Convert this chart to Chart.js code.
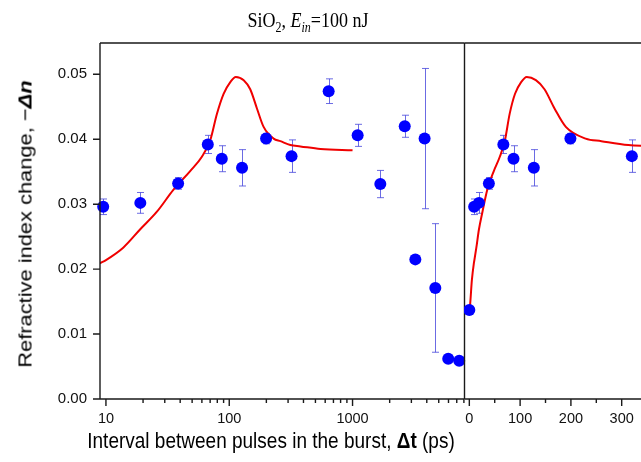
<!DOCTYPE html>
<html>
<head>
<meta charset="utf-8">
<script src="https://cdn.jsdelivr.net/npm/chart.js@4.4.1/dist/chart.umd.min.js"></script>
<style>
  html, body { margin: 0; padding: 0; background: #fff; }
  #wrap { position: relative; width: 641px; height: 462px; overflow: hidden; }
  #leftChart { position: absolute; left: 0; top: 0; }
  #rightChart { position: absolute; left: 464px; top: 0; }
  .txt { position: absolute; white-space: nowrap; color: #000; line-height: 1; }
  #title { left: 308px; top: 20px; font-family: "Liberation Serif", "Times New Roman", serif; font-size: 18px;
           transform: translate(-50%, -50%) scaleY(1.15); }
  #title sub { font-size: 12px; vertical-align: -4px; line-height: 0; }
  #ytitle { left: 25px; top: 224px; font-family: "Liberation Sans", Arial, sans-serif; font-size: 19px;
            transform: translate(-50%, -50%) rotate(-90deg) scaleX(1.15); }
  #xtitle { left: 271px; top: 441px; font-family: "Liberation Sans", Arial, sans-serif; font-size: 19px;
            transform: translate(-50%, -50%) scaleY(1.15); }
</style>
</head>
<body>
<div id="wrap">
  <canvas id="leftChart" width="466" height="462"></canvas>
  <canvas id="rightChart" width="177" height="462"></canvas>
  <div id="title" class="txt">SiO<sub>2</sub>, <i>E</i><sub><i>in</i></sub>=100 nJ</div>
  <div id="ytitle" class="txt">Refractive index change, &minus;<b><i>&Delta;n</i></b></div>
  <div id="xtitle" class="txt">Interval between pulses in the burst, <b>&Delta;t</b> (ps)</div>
</div>
<script>
// measured points: delay (ps), -dn and its error
const delays = [0, 9.5, 19, 38.5, 67, 87, 127, 199, 320, 640, 1100, 1680, 2650, 3230, 3840, 4690, 5970, 7330];
const dn = [0.0137, 0.0296, 0.0302, 0.0332, 0.0392, 0.0370, 0.0356, 0.0401, 0.0374, 0.0474, 0.0406, 0.0331, 0.0420, 0.0215, 0.0401, 0.0171, 0.0062, 0.0059];
const dnErr = [0, 0.0012, 0.0016, 0.0009, 0.0014, 0.0020, 0.0028, 0.0008, 0.0025, 0.0019, 0.0017, 0.0021, 0.0017, 0, 0.0108, 0.0099, 0, 0];

// model curve (red)
const modelT = [0, 1.5, 5, 8.9, 10, 13.8, 18.9, 25.8, 35.2, 48.2, 60, 70, 79.4, 90, 102, 113, 131, 148, 168, 190, 229, 260, 313, 378, 550, 1000];
const modelDn = [0.0137, 0.0145, 0.0183, 0.0209, 0.0214, 0.0233, 0.0261, 0.0288, 0.0322, 0.0351, 0.0373, 0.0398, 0.0439, 0.0470, 0.0488, 0.0496, 0.0491, 0.0477, 0.0447, 0.0419, 0.0401, 0.0397, 0.0391, 0.0389, 0.0385, 0.0383];

// axes
const yTicks = [0, 0.01, 0.02, 0.03, 0.04, 0.05];
const logTicks = [10, 20, 30, 40, 50, 60, 70, 80, 90, 100, 200, 300, 400, 500, 600, 700, 800, 900,
                  1000, 2000, 3000, 4000, 5000, 6000, 7000, 8000];
const logLabels = [10, 100, 1000];
const linTicks = [0, 50, 100, 150, 200, 250, 300];
const linLabels = [0, 100, 200, 300];

const axisColor = '#1a1a1a';
Chart.defaults.font.family = "'Liberation Sans', Arial, sans-serif";
Chart.defaults.color = '#111';

function curveData(keep) {
    return modelT.map((t, i) => ({ x: t, y: modelDn[i] })).filter(p => keep(p.x));
}
function pointData(keep) {
    return delays.map((t, i) => ({ x: t, y: dn[i], e: dnErr[i] })).filter(p => keep(p.x));
}

// frame, outward ticks and error bars
const framePlugin = {
    id: 'frame',
    beforeDatasetsDraw(chart) {
        const { ctx, scales: { x, y } } = chart;
        ctx.save();
        ctx.strokeStyle = 'rgba(70, 70, 220, 0.8)';
        ctx.lineWidth = 1;
        ctx.beginPath();
        chart.data.datasets[1].data.forEach(p => {
            if (!p.e) return;
            const px = Math.round(x.getPixelForValue(p.x)) + 0.5;
            const y1 = y.getPixelForValue(p.y + p.e);
            const y2 = y.getPixelForValue(p.y - p.e);
            ctx.moveTo(px, y1); ctx.lineTo(px, y2);
            ctx.moveTo(px - 3.5, y1); ctx.lineTo(px + 3.5, y1);
            ctx.moveTo(px - 3.5, y2); ctx.lineTo(px + 3.5, y2);
        });
        ctx.stroke();
        ctx.restore();
    },
    afterDraw(chart, args, opts) {
        const { ctx, chartArea: a, scales: { x, y } } = chart;
        ctx.save();
        ctx.strokeStyle = axisColor;
        ctx.lineWidth = 1.4;
        ctx.beginPath();
        ctx.moveTo(a.left, a.top); ctx.lineTo(a.right, a.top);
        ctx.moveTo(a.left, a.bottom); ctx.lineTo(a.right, a.bottom);
        if (opts.left) { ctx.moveTo(a.left, a.top); ctx.lineTo(a.left, a.bottom); }
        if (opts.right) { ctx.moveTo(a.right, a.top); ctx.lineTo(a.right, a.bottom); }
        x.ticks.forEach(t => {
            const px = x.getPixelForValue(t.value);
            ctx.moveTo(px, a.bottom); ctx.lineTo(px, a.bottom + (t.label ? 7 : 4));
        });
        if (opts.left) {
            y.ticks.forEach(t => {
                const py = y.getPixelForValue(t.value);
                ctx.moveTo(a.left - 7, py); ctx.lineTo(a.left, py);
            });
        }
        ctx.stroke();
        ctx.restore();
    }
};

function datasets(keep) {
    return [{
        data: curveData(keep),
        showLine: true,
        borderColor: '#f00000',
        borderWidth: 2,
        pointRadius: 0,
        cubicInterpolationMode: 'monotone',
        order: 2
    }, {
        data: pointData(keep),
        backgroundColor: '#0000ff',
        borderWidth: 0,
        pointRadius: 6,
        clip: 10,
        order: 1
    }];
}

function yScale(show) {
    return {
        type: 'linear',
        min: 0,
        max: 0.05482,
        display: show,
        afterBuildTicks: s => { s.ticks = yTicks.map(v => ({ value: v })); },
        afterFit: s => { if (show) s.width = 100; s.paddingTop = 0; s.paddingBottom = 0; },
        ticks: { callback: v => v.toFixed(2), padding: 6, font: { size: 15 }, color: '#111' },
        grid: { display: false, drawTicks: true, tickLength: 7 },
        border: { display: false }
    };
}

function xScale(type, min, max, ticks, labels) {
    return {
        type: type,
        min: min,
        max: max,
        afterBuildTicks: s => { s.ticks = ticks.map(v => ({ value: v })); },
        afterFit: s => { s.height = 63; s.paddingLeft = 0; s.paddingRight = 0; },
        ticks: {
            callback: v => labels.includes(v) ? String(v) : '',
            autoSkip: false, maxRotation: 0, minRotation: 0,
            padding: 0, font: { size: 14.5 }, color: '#111'
        },
        grid: { display: false, drawTicks: true, tickLength: 11 },
        border: { display: false }
    };
}

function options(x, showY, pad, frame) {
    return {
        responsive: false,
        animation: false,
        events: [],
        layout: { padding: pad, autoPadding: false },
        plugins: { legend: { display: false }, tooltip: { enabled: false }, frame: frame },
        scales: { x: x, y: yScale(showY) }
    };
}

const leftChart = new Chart(document.getElementById('leftChart'), {
    type: 'scatter',
    data: { datasets: datasets(t => t > 0) },
    options: options(xScale('logarithmic', 8.95, 8090, logTicks, logLabels), true,
        { top: 43, left: 0, right: 1.5, bottom: 0 }, { left: true, right: true }),
    plugins: [framePlugin]
});

const rightChart = new Chart(document.getElementById('rightChart'), {
    type: 'scatter',
    data: { datasets: datasets(t => t <= 338 || modelT.includes(t)) },
    options: options(xScale('linear', -9.5, 338, linTicks, linLabels), false,
        { top: 43, left: 0.5, right: 0, bottom: 0 }, { left: false, right: false }),
    plugins: [framePlugin]
});
</script>
</body>
</html>
